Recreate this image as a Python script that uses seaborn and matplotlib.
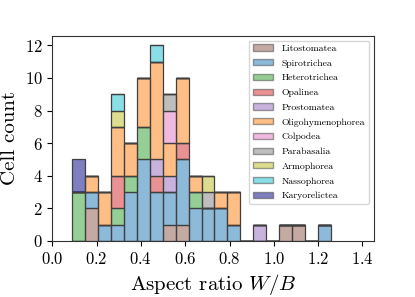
import numpy as np
import pandas as pd
import seaborn as sns
import matplotlib.pyplot as plt
from matplotlib.patches import Patch

plt.rcParams['font.family'] = 'cmr10'
plt.rcParams['mathtext.fontset'] = 'cm'
plt.rcParams['axes.formatter.use_mathtext'] = True

classes = ['Litostomatea', 'Spirotrichea', 'Heterotrichea', 'Opalinea', 'Prostomatea',
           'Oligohymenophorea', 'Colpodea', 'Parabasalia', 'Armophorea', 'Nassophorea',
           'Karyorelictea']
colors = ['tab:brown', 'tab:blue', 'tab:green', 'tab:red', 'tab:purple', 'tab:orange',
          'tab:pink', 'tab:gray', 'tab:olive', 'tab:cyan', 'navy']

# 20 bins between min and max aspect ratio
lo, hi, nbins = 0.0876, 1.2596, 20
edges = np.linspace(lo, hi, nbins + 1)
centers = (edges[:-1] + edges[1:]) / 2

# counts per bin, per class
counts = {
    'Litostomatea':      [0, 2, 0, 0, 0, 0, 0, 1, 1, 0, 0, 0, 0, 0, 0, 0, 1, 1, 0, 0],
    'Spirotrichea':      [0, 1, 1, 1, 3, 5, 3, 2, 4, 2, 2, 2, 1, 0, 0, 0, 0, 0, 0, 1],
    'Heterotrichea':     [3, 0, 0, 1, 1, 2, 0, 0, 0, 1, 0, 0, 0, 0, 0, 0, 0, 0, 0, 0],
    'Opalinea':          [0, 0, 0, 2, 0, 0, 1, 0, 1, 0, 0, 0, 0, 0, 0, 0, 0, 0, 0, 0],
    'Prostomatea':       [0, 0, 0, 0, 0, 0, 1, 1, 0, 0, 0, 0, 0, 0, 1, 0, 0, 0, 0, 0],
    'Oligohymenophorea': [0, 1, 2, 3, 2, 3, 6, 2, 4, 1, 0, 1, 2, 0, 0, 0, 0, 0, 0, 0],
    'Colpodea':          [0, 0, 0, 0, 0, 0, 0, 2, 0, 0, 0, 0, 0, 0, 0, 0, 0, 0, 0, 0],
    'Parabasalia':       [0, 0, 0, 0, 0, 0, 0, 1, 0, 0, 1, 0, 0, 0, 0, 0, 0, 0, 0, 0],
    'Armophorea':        [0, 0, 0, 1, 0, 0, 0, 0, 0, 0, 1, 0, 0, 0, 0, 0, 0, 0, 0, 0],
    'Nassophorea':       [0, 0, 0, 1, 0, 0, 1, 0, 0, 0, 0, 0, 0, 0, 0, 0, 0, 0, 0, 0],
    'Karyorelictea':     [2, 0, 0, 0, 0, 0, 0, 0, 0, 0, 0, 0, 0, 0, 0, 0, 0, 0, 0, 0],
}

rows = []
for c in classes:
    for x, n in zip(centers, counts[c]):
        rows.append((x, c, n))
df = pd.DataFrame(rows, columns=['ratio', 'cls', 'n'])

pal = dict(zip(classes, colors))

fig = plt.figure(figsize=(4.15, 2.97), dpi=100)
ax = fig.add_axes([0.126, 0.189, 0.774, 0.691])
# seaborn puts the first hue level on top, so reverse to get Litostomatea at the bottom
sns.histplot(data=df, x='ratio', weights='n', hue='cls', hue_order=classes[::-1],
             bins=nbins, binrange=(lo, hi), multiple='stack', palette=pal, alpha=0.5,
             edgecolor='0.25', linewidth=0.9, legend=False, ax=ax)

ax.set_xlim(0, 1.45)
ax.set_ylim(0, 12.6)
ax.set_xticks(np.arange(0, 1.41, 0.2))
ax.set_yticks(np.arange(0, 13, 2))
ax.tick_params(labelsize=12)
ax.set_xlabel('Aspect ratio $W/B$', fontsize=15)
ax.set_ylabel('Cell count', fontsize=15)
for s in ax.spines.values():
    s.set_color('#333333')

handles = [Patch(facecolor=pal[c], edgecolor='0.25', alpha=0.5, label=c) for c in classes]
ax.legend(handles=handles, loc='upper right', fontsize=7, handleheight=0.6,
          handlelength=2.1, labelspacing=0.64, borderaxespad=0.5)

fig.savefig('out.png', dpi=100)
